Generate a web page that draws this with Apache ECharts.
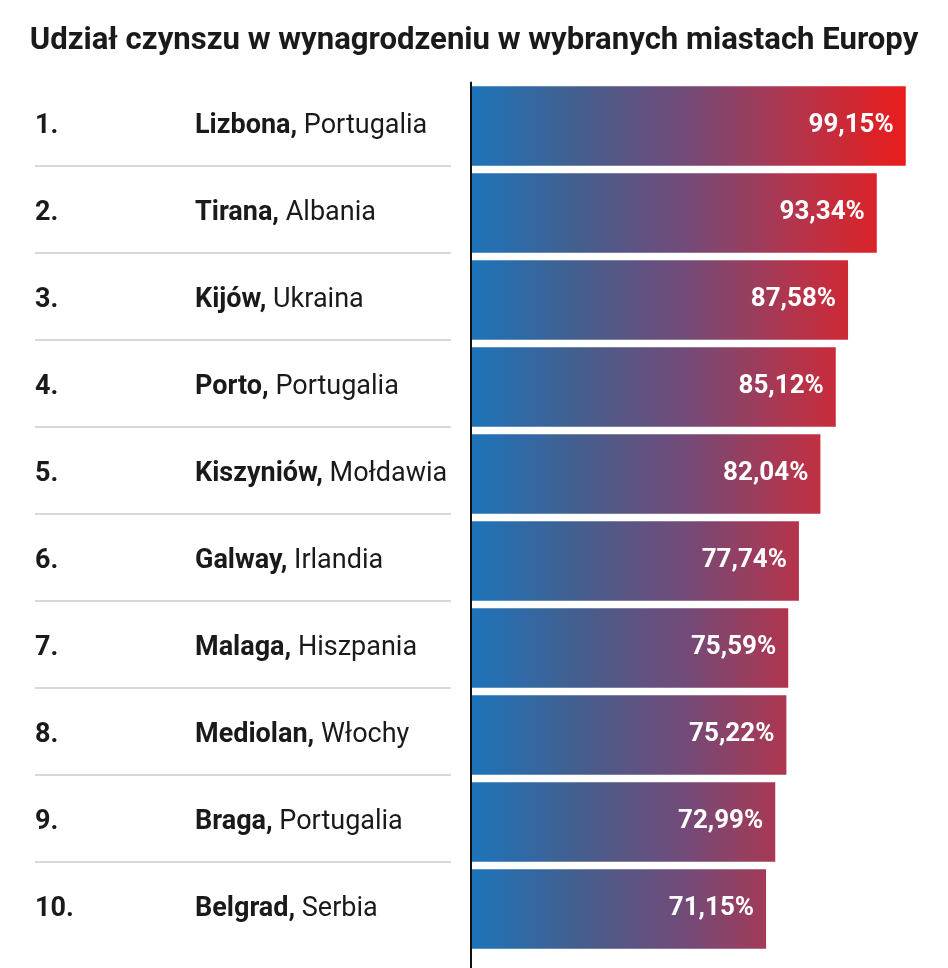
<!DOCTYPE html>
<html>
<head>
<meta charset="utf-8">
<style>
  html, body { margin: 0; padding: 0; background: #ffffff; }
  #chart { width: 948px; height: 968px; }
</style>
<script src="https://cdn.jsdelivr.net/npm/echarts@6/dist/echarts.min.js"></script>
</head>
<body>
<div id="chart"></div>
<script>
// ---- data ----
const titleText = 'Udział czynszu w wynagrodzeniu w wybranych miastach Europy';
const ranks = ['1.', '2.', '3.', '4.', '5.', '6.', '7.', '8.', '9.', '10.'];
const cities = ['Lizbona', 'Tirana', 'Kijów', 'Porto', 'Kiszyniów', 'Galway', 'Malaga', 'Mediolan', 'Braga', 'Belgrad'];
const countries = ['Portugalia', 'Albania', 'Ukraina', 'Portugalia', 'Mołdawia', 'Irlandia', 'Hiszpania', 'Włochy', 'Portugalia', 'Serbia'];
const shares = [99.15, 93.34, 87.58, 85.12, 82.04, 77.74, 75.59, 75.22, 72.99, 71.15];

const categories = cities.map((c, i) => c + '|' + i);

// fit title width
const cv = document.createElement('canvas').getContext('2d');
cv.font = 'bold 30px Roboto';
const titleSize = Math.round(30 * 888 / cv.measureText(titleText).width * 10) / 10;

const chart = echarts.init(document.getElementById('chart'), null, { renderer: 'canvas' });

const gradStops = [
  { offset: 0, color: '#1d74ba' },
  { offset: 0.25, color: '#455e8d' },
  { offset: 0.5, color: '#744a78' },
  { offset: 0.75, color: '#b5344b' },
  { offset: 1, color: '#e91c1c' }
];

function buildOption(grad) {
  return {
    backgroundColor: '#ffffff',
    animation: false,
    title: {
      text: titleText,
      left: 'center',
      top: 21,
      textStyle: { fontFamily: 'Roboto', fontWeight: 'bold', fontSize: titleSize, color: '#1a1a1a' }
    },
    grid: [
      { left: 471, right: 38, top: 82.4, bottom: 15.5 },
      { left: 35, right: 497, top: 79.1, bottom: 18.8 },
      { left: 470.5, width: 10, top: 82.5, bottom: 0 }
    ],
    xAxis: [
      { gridIndex: 0, type: 'value', min: 12, max: 100, show: false },
      { gridIndex: 1, type: 'value', min: 0, max: 1, show: false },
      { gridIndex: 2, type: 'value', min: 0, max: 1, show: false }
    ],
    yAxis: [
      {
        gridIndex: 0, type: 'category', inverse: true, data: categories,
        axisLine: { show: false }, axisTick: { show: false }, splitLine: { show: false },
        axisLabel: {
          margin: 436, align: 'left',
          formatter: function (v, i) {
            return '{r|' + ranks[i] + '}{c|' + cities[i] + ',}{n| ' + countries[i] + '}';
          },
          rich: {
            r: { width: 160, fontFamily: 'Roboto', fontWeight: 'bold', fontSize: 27, color: '#1a1a1a' },
            c: { fontFamily: 'Roboto', fontWeight: 'bold', fontSize: 27, color: '#1a1a1a' },
            n: { fontFamily: 'Roboto', fontWeight: 'normal', fontSize: 27, color: '#1a1a1a' }
          }
        }
      },
      {
        gridIndex: 1, type: 'category', inverse: true, data: categories,
        axisLine: { show: false }, axisTick: { show: false }, axisLabel: { show: false },
        splitLine: { show: true, showMinLine: false, showMaxLine: false, lineStyle: { color: '#cccccc', width: 1.5 } }
      },
      {
        gridIndex: 2, type: 'value', min: 0, max: 1, z: 10,
        axisLine: { show: true, lineStyle: { color: '#111111', width: 2 } },
        axisTick: { show: false }, axisLabel: { show: false }, splitLine: { show: false }
      }
    ],
    series: [
      {
        type: 'bar',
        xAxisIndex: 0, yAxisIndex: 0,
        data: shares,
        barWidth: 79.5,
        itemStyle: { color: grad || '#1d74ba' },
        label: {
          show: true,
          position: 'insideRight',
          distance: 12,
          color: '#ffffff',
          fontFamily: 'Roboto',
          fontWeight: 'bold',
          fontSize: 26,
          formatter: function (p) { return p.value.toFixed(2).replace('.', ',') + '%'; }
        }
      }
    ]
  };
}

chart.setOption(buildOption(null));
const x0 = chart.convertToPixel({ xAxisIndex: 0 }, 12);
const x1 = chart.convertToPixel({ xAxisIndex: 0 }, Math.max.apply(null, shares));
const grad = new echarts.graphic.LinearGradient(x0, 0, x1, 0, gradStops, true);
chart.setOption(buildOption(grad));
</script>
</body>
</html>
